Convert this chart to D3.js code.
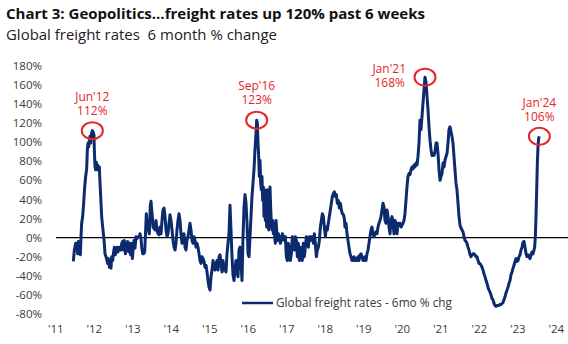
<!DOCTYPE html>
<html>
<head>
<meta charset="utf-8">
<script src="https://cdn.jsdelivr.net/npm/d3@7/dist/d3.min.js"></script>
<style>
  body { margin: 0; background: #fff; }
  svg { display: block; font-family: "Open Sans", "Noto Sans", sans-serif; }
</style>
</head>
<body>
<svg width="568" height="344"></svg>
<script>
// weekly-ish series: fractional year, 6mo % change
var years = [
  2011.970,2011.996,2012.030,2012.065,2012.082,2012.100,2012.126,2012.152,2012.169,2012.186,2012.212,2012.238,2012.264,2012.290,2012.316,2012.334,2012.351,2012.368,2012.386,2012.403,
  2012.420,2012.437,2012.463,2012.489,2012.507,2012.515,2012.533,2012.550,2012.567,2012.585,2012.602,2012.628,2012.645,2012.663,2012.689,2012.706,2012.732,2012.758,2012.775,2012.792,
  2012.818,2012.844,2012.862,2012.879,2012.905,2012.931,2012.948,2012.966,2012.992,2013.009,2013.035,2013.061,2013.087,2013.104,2013.130,2013.156,2013.182,2013.208,2013.226,2013.251,
  2013.277,2013.295,2013.321,2013.338,2013.364,2013.381,2013.407,2013.433,2013.459,2013.477,2013.503,2013.529,2013.546,2013.572,2013.598,2013.624,2013.650,2013.676,2013.702,2013.728,
  2013.745,2013.771,2013.797,2013.823,2013.840,2013.866,2013.884,2013.901,2013.918,2013.944,2013.970,2013.988,2014.005,2014.022,2014.040,
  2014.091,2014.117,2014.143,2014.169,2014.195,2014.221,2014.247,2014.273,2014.299,2014.325,2014.351,2014.377,2014.403,2014.429,2014.455,2014.481,2014.507,2014.533,2014.559,2014.585,
  2014.611,2014.636,2014.662,2014.688,2014.714,2014.740,2014.766,2014.792,2014.818,2014.844,2014.870,2014.896,2014.922,2014.948,2014.974,2015.000,2015.026,2015.052,2015.078,2015.104,
  2015.130,2015.156,2015.182,2015.208,2015.234,2015.260,2015.286,2015.312,2015.338,2015.364,2015.390,2015.416,2015.442,2015.468,2015.494,2015.520,2015.546,2015.572,2015.598,2015.624,
  2015.650,2015.676,2015.702,2015.728,2015.754,2015.780,2015.806,2015.832,2015.858,2015.884,2015.910,2015.935,2015.961,2015.987,2016.013,2016.039,2016.065,2016.091,2016.117,2016.143,
  2016.169,2016.195,2016.221,2016.247,2016.273,2016.299,2016.325,2016.351,2016.377,2016.403,2016.429,2016.455,
  2016.481,2016.507,2016.533,2016.559,2016.584,2016.610,2016.636,2016.662,2016.688,2016.714,2016.732,2016.749,2016.766,2016.784,2016.801,2016.818,2016.836,2016.853,2016.870,2016.888,
  2016.905,2016.922,2016.940,2016.957,2016.974,2016.991,2017.009,2017.026,2017.044,2017.061,2017.078,2017.095,2017.113,2017.130,2017.147,2017.165,2017.182,2017.199,2017.217,2017.234,
  2017.251,2017.269,2017.295,2017.321,2017.347,2017.373,2017.399,2017.425,2017.451,2017.477,2017.503,2017.528,2017.554,2017.580,2017.606,2017.632,2017.658,2017.684,2017.710,2017.736,
  2017.762,2017.788,2017.814,2017.840,2017.866,2017.892,2017.918,2017.944,2017.970,2017.996,2018.022,2018.048,2018.074,2018.100,2018.126,2018.152,2018.178,2018.204,2018.230,2018.256,
  2018.282,2018.308,2018.334,2018.360,2018.386,2018.412,2018.438,2018.464,2018.490,2018.516,2018.542,2018.567,2018.593,2018.619,2018.645,2018.671,2018.697,2018.723,2018.749,2018.775,
  2018.801,2018.827,2018.853,2018.879,2018.905,2018.931,2018.957,2018.983,2019.009,
  2019.026,2019.052,2019.078,2019.104,2019.130,2019.156,2019.182,2019.208,2019.234,2019.260,2019.286,2019.312,2019.338,2019.364,2019.390,2019.416,2019.442,2019.468,2019.494,2019.520,
  2019.546,2019.571,2019.597,2019.623,2019.649,2019.675,2019.701,2019.727,2019.753,2019.779,2019.805,2019.831,2019.857,2019.883,2019.909,2019.935,2019.961,2019.987,2020.013,2020.039,
  2020.065,2020.091,2020.117,2020.143,2020.169,2020.195,2020.221,2020.247,2020.273,2020.299,2020.325,2020.351,2020.377,2020.403,2020.429,2020.455,2020.481,2020.507,2020.532,2020.558,
  2020.584,2020.610,2020.636,2020.662,2020.688,2020.714,2020.740,2020.766,2020.792,2020.818,2020.844,2020.870,2020.896,2020.922,2020.948,2020.974,2021.000,2021.026,2021.052,2021.078,
  2021.104,2021.130,2021.156,2021.182,2021.208,2021.234,2021.260,2021.286,2021.312,2021.338,2021.364,2021.390,2021.416,2021.442,2021.468,2021.494,2021.520,2021.546,2021.572,2021.598,
  2021.624,2021.650,2021.676,2021.702,2021.727,2021.753,
  2021.779,2021.805,2021.831,2021.857,2021.883,2021.909,2021.935,2021.961,2021.987,2022.013,2022.039,2022.065,2022.091,2022.117,2022.143,2022.169,2022.195,2022.221,2022.247,2022.273,
  2022.299,2022.325,2022.351,2022.377,2022.403,2022.429,2022.455,2022.481,2022.507,2022.533,2022.559,2022.585,2022.611,2022.637,2022.663,2022.689,2022.715,2022.740,2022.766,2022.792,
  2022.818,2022.844,2022.870,2022.896,2022.922,2022.948,2022.974,2023.000,2023.026,2023.052,2023.078,2023.104,2023.130,2023.156,2023.182,2023.208,2023.234,2023.260,2023.286,2023.312,
  2023.338,2023.364,2023.390,2023.416,2023.442,2023.468,2023.494,2023.520,2023.546,2023.572,2023.598,2023.624,2023.650,2023.676,2023.702,2023.728,2023.754,2023.779,2023.805,2023.831,
  2023.857,2023.883,2023.909,2023.935,2023.952,2023.970,2023.987,2024.005,2024.022,2024.039,2024.056,2024.074
];
var values = [
  -25,-13,-6,-10,-17,-4,-13,-18,1,15,22,36,53,64,72,92,99,95,102,106,
  99,108,112,110,107,92,74,71,79,71,76,71,74,57,36,22,11,1,-6,-17,
  -20,-24,-27,-22,-31,-25,-32,-20,-24,-17,-10,-18,-13,-10,-15,-10,-11,-13,-6,-4,
  -13,-3,-17,-10,-11,-4,-15,-6,-18,-6,-22,-10,-3,-11,1,-1,1,1,4,-1,
  -10,-17,-17,-15,1,25,15,18,8,4,34,38,29,22,11,
  8,18,8,4,3,11,4,18,29,31,22,8,1,4,15,24,18,8,-3,-10,
  -13,-6,8,18,25,18,4,-6,-3,4,-10,-13,-3,1,8,15,8,-3,-6,1,
  -3,-10,-6,-10,-17,-24,-27,-20,-22,-25,-31,-29,-36,-45,-52,-55,-41,-34,-24,-31,
  -34,-27,-24,-34,-20,-18,-27,-36,-24,-34,-31,-36,-17,-6,4,34,8,-20,-39,-45,
  -34,-24,-34,-41,-13,-10,-27,-45,1,32,45,36,
  15,-17,-20,1,22,43,57,71,92,109,123,120,99,85,64,81,57,50,64,39,
  53,22,50,18,36,11,50,29,8,43,53,32,15,8,18,4,15,1,-6,18,
  8,-3,4,1,-6,-3,4,1,-3,1,-20,-24,-6,-10,-24,-17,1,-3,-13,1,
  -3,-20,-6,-24,-10,-13,-24,-6,-20,-10,1,-3,-10,1,-3,1,1,-6,4,-6,
  -20,-13,-10,-3,11,18,25,22,11,1,11,8,15,22,29,36,43,46,48,43,
  45,36,39,31,36,29,25,24,20,
  11,15,4,-3,-10,-17,-20,-24,-24,-20,-24,-22,-24,-20,-24,-18,-17,-20,-24,-24,
  -20,-24,-17,-13,-6,1,8,11,4,1,4,6,4,11,15,18,22,29,36,32,
  18,15,29,22,11,4,18,22,15,4,18,15,4,15,13,15,11,13,15,18,
  25,39,53,64,67,66,71,74,72,76,74,78,76,85,99,123,113,127,141,155,
  168,163,148,134,116,102,92,86,88,86,90,99,99,88,71,60,64,67,78,74,
  81,85,88,99,113,116,
  111,106,99,85,71,57,50,36,22,13,10,8,6,1,-3,-4,-6,-10,-13,-18,
  -20,-18,-17,-17,-18,-20,-20,-24,-27,-27,-29,-31,-34,-38,-41,-45,-48,-52,-55,-57,
  -60,-64,-65,-69,-71,-72,-71,-71,-71,-70,-70,-69,-68,-65,-62,-58,-55,-52,-48,-45,
  -39,-36,-32,-29,-25,-22,-25,-24,-20,-18,-13,-10,-5,-4,-10,-17,-20,-18,-20,-22,
  -18,-15,-17,-13,-10,1,22,50,78,95,104,106
];

var yTicks = [-80, -60, -40, -20, 0, 20, 40, 60, 80, 100, 120, 140, 160, 180];
var yearLabels = [2011, 2012, 2013, 2014, 2015, 2016, 2017, 2018, 2019, 2020, 2021, 2022, 2023, 2024];

var peakYears = [2012.463, 2016.732, 2021.104, 2024.074];
var peakValues = [112, 123, 168, 106];
var peakMonths = ["Jun'12", "Sep'16", "Jan'21", "Jan'24"];
var peakPcts = ["112%", "123%", "168%", "106%"];

var seriesName = "Global freight rates - 6mo % chg";
var title = "Chart 3: Geopolitics\u2026freight rates up 120% past 6 weeks";
var subtitle = "Global freight rates  6 month % change";

var svg = d3.select("svg");
var navy = "#0c2a6e", red = "#e3262b";

var x = d3.scaleLinear().domain([2011, 2025]).range([36, 575]);
var y = d3.scaleLinear().domain([-80, 180]).range([314, 65.7]);

var data = years.map((t, i) => ({t: t, v: values[i]}));

// titles
svg.append("text")
    .attr("x", 6).attr("y", 19)
    .attr("font-size", 15).attr("font-weight", "bold")
    .attr("textLength", 419).attr("lengthAdjust", "spacingAndGlyphs")
    .attr("fill", "#111")
    .text(title);
svg.append("text")
    .attr("x", 6).attr("y", 40)
    .attr("font-size", 14.5)
    .attr("textLength", 271).attr("lengthAdjust", "spacingAndGlyphs")
    .attr("fill", "#222")
    .style("white-space", "pre")
    .text(subtitle);

// y axis
var yAxis = svg.append("g")
    .attr("transform", "translate(42,0)")
    .call(d3.axisLeft(y).tickValues(yTicks).tickSize(0).tickPadding(0).tickFormat(d => d + "%"));
yAxis.select(".domain").remove();
yAxis.selectAll("text").attr("font-size", 11.5).attr("fill", "#3a3a3a")
    .attr("font-family", "Open Sans, sans-serif");

// x axis, labels sit mid-year
var xAxis = svg.append("g")
    .attr("transform", "translate(0,322)")
    .call(d3.axisBottom(x).tickValues(yearLabels.map(d => d + 0.5)).tickSize(0).tickPadding(3)
        .tickFormat(d => "'" + String(Math.floor(d)).slice(2)));
xAxis.select(".domain").remove();
xAxis.selectAll("text").attr("font-size", 11.5).attr("fill", "#3a3a3a")
    .attr("font-family", "Open Sans, sans-serif");

// zero line
svg.append("line")
    .attr("x1", 56).attr("x2", 568)
    .attr("y1", y(0)).attr("y2", y(0))
    .attr("stroke", "#000").attr("stroke-width", 1.2);

// series
var line = d3.line().x(d => x(d.t)).y(d => y(d.v));
svg.append("path")
    .datum(data)
    .attr("fill", "none")
    .attr("stroke", navy)
    .attr("stroke-width", 3)
    .attr("stroke-linejoin", "round")
    .attr("d", line);

// peak annotations (two lines in one text element)
peakYears.forEach(function(t, i) {
  var cx = x(t), cy = y(peakValues[i]);
  svg.append("ellipse")
      .attr("cx", cx).attr("cy", cy)
      .attr("rx", 10.5).attr("ry", 8.5)
      .attr("fill", "none").attr("stroke", red).attr("stroke-width", 2);
  var left = i == 2;
  var tx = left ? cx - 19 : cx;
  var ty1 = left ? cy - 8.5 : cy - 34;
  var lbl = svg.append("text")
      .attr("fill", red).attr("font-size", 12)
      .attr("text-anchor", left ? "end" : "middle")
      .attr("y", ty1).attr("dy", "0.35em");
  lbl.append("tspan").attr("x", tx).text(peakMonths[i]);
  lbl.append("tspan").attr("x", left ? tx - 1 : tx).attr("dy", 14).text(peakPcts[i]);
});

// legend
svg.append("line")
    .attr("x1", 242).attr("x2", 273)
    .attr("y1", 303).attr("y2", 303)
    .attr("stroke", navy).attr("stroke-width", 2.5);
svg.append("text")
    .attr("x", 276).attr("y", 303).attr("dy", "0.35em")
    .attr("font-size", 12.5).attr("fill", "#3a3a3a")
    .attr("textLength", 176).attr("lengthAdjust", "spacingAndGlyphs")
    .text(seriesName);
</script>
</body>
</html>
